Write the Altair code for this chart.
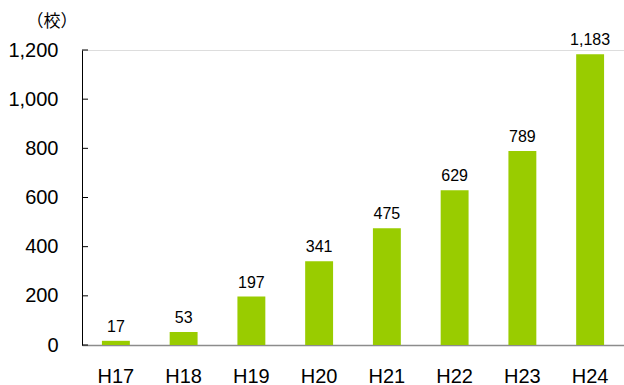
import altair as alt
import pandas as pd

years = ["H17", "H18", "H19", "H20", "H21", "H22", "H23", "H24"]
counts = [17, 53, 197, 341, 475, 629, 789, 1183]
y_ticks = [0, 200, 400, 600, 800, 1000, 1200]

df = pd.DataFrame({"year": years, "count": counts})
tick_df = pd.DataFrame({"tick": y_ticks})

FONT = "Arial, Liberation Sans, Noto Sans CJK JP"

yscale = alt.Scale(domain=[0, 1200], nice=False)

base = alt.Chart(df).encode(
    x=alt.X("year:N", sort=years,
            scale=alt.Scale(paddingInner=0.588, paddingOuter=0.294),
            axis=alt.Axis(title=None, labelAngle=0, ticks=False, labelPadding=21,
                          labelFontSize=20, labelColor="#000000", labelFont=FONT,
                          domainColor="#8c8c8c", domainWidth=1.5, grid=False)),
    y=alt.Y("count:Q", scale=yscale,
            axis=alt.Axis(values=y_ticks, format=",d",
                          title="（校）", titleAngle=0, titleAlign="left", titleBaseline="middle",
                          titleX=-56, titleY=-29, titleFontSize=17, titleFontWeight="normal",
                          titleFont="Noto Sans CJK JP", titleColor="#000000",
                          labelFontSize=20, labelColor="#000000", labelFont=FONT,
                          labelPadding=24, ticks=False,
                          domainColor="#000000", grid=False)),
)

bars = base.mark_bar(color="#99CC00")
labels = base.mark_text(baseline="alphabetic", dy=-9, fontSize=16, font=FONT, color="#000000").encode(
    text=alt.Text("count:Q", format=",d")
)

ticks = alt.Chart(tick_df).mark_rule(color="#000000", strokeWidth=1).encode(
    y=alt.Y("tick:Q", scale=yscale),
    x=alt.value(0),
    x2=alt.value(6),
)

chart = (bars + labels + ticks).properties(
    width=542, height=295,
    autosize=alt.AutoSizeParams(type="none"),
    padding={"left": 82, "top": 50, "right": 0, "bottom": 40},
).configure_view(stroke=None).configure(background="white")

chart.save("out.html", embed_options={"renderer": "svg", "actions": False})
